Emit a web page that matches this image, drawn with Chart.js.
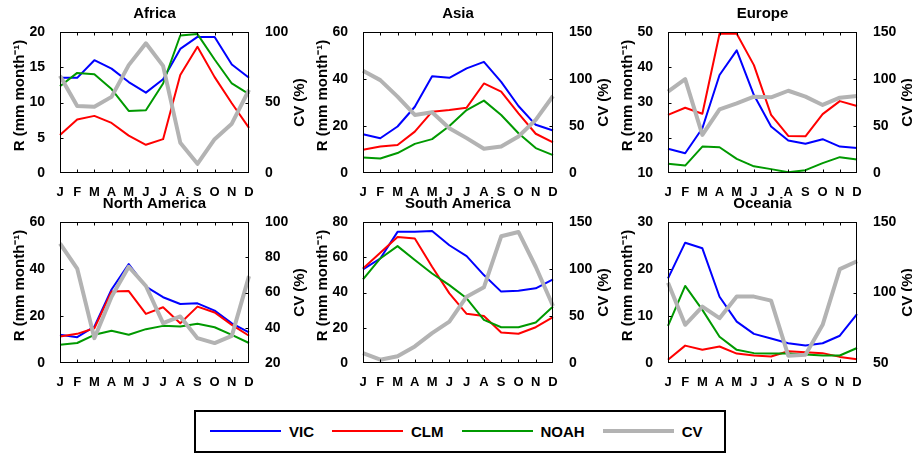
<!DOCTYPE html>
<html><head><meta charset="utf-8">
<script src="https://cdn.jsdelivr.net/npm/chart.js@4.4.1/dist/chart.umd.min.js"></script>
<style>
html,body{margin:0;padding:0;background:#fff;}
body{width:912px;height:455px;overflow:hidden;position:relative;font-family:"Liberation Sans",Arial,sans-serif;}
canvas{position:absolute;}
#legend{position:absolute;left:194px;top:410px;width:532px;height:43px;box-sizing:border-box;border:2px solid #000;display:flex;align-items:center;padding-left:14px;padding-bottom:1px;}
.item{display:flex;align-items:center;margin-right:18px;}
.sw{width:71px;margin-right:8px;}
.lab{font-weight:bold;font-size:15px;color:#000;}
</style>
</head><body>
<div id="legend"></div>
<script>
// ---- data ----
const months = ['J','F','M','A','M','J','J','A','S','O','N','D'];
const seriesNames = ['VIC','CLM','NOAH','CV'];
const seriesColors = ['#0000ff','#ff0000','#009900','#b3b3b3'];
const regions = ['Africa','Asia','Europe','North America','South America','Oceania'];

const africaVIC  = [13.5,13.5,16.0,14.8,12.9,11.4,13.3,17.6,19.3,19.3,15.4,13.5];
const africaCLM  = [5.4,7.6,8.1,7.1,5.3,4.0,4.8,13.9,17.9,13.6,9.9,6.4];
const africaNOAH = [12.3,14.2,14.0,11.9,8.8,8.9,12.7,19.5,19.7,16.1,12.7,11.2];
const africaCV   = [69,47.5,47,54,76.5,92,76,21.5,6.5,24,35,59];

const asiaVIC  = [16.5,14.8,19.8,28.2,41.2,40.5,44.5,47.3,38.8,28.5,20.5,18.1];
const asiaCLM  = [9.9,11.3,11.9,17.6,26.1,26.8,27.8,38.1,34.6,25.4,16.7,13.0];
const asiaNOAH = [6.6,6.2,8.5,12.4,14.4,20.0,26.8,30.8,24.7,16.9,10.6,7.6];
const asiaCV   = [108.7,98.8,81.2,61.8,64.6,47.6,37.1,25.8,28.2,38.8,56.5,81.9];

const europeVIC  = [16.9,15.6,22.7,37.8,44.8,32.1,23.2,19.2,18.3,19.6,17.5,17.1];
const europeCLM  = [26.5,28.5,26.8,49.5,49.5,40.6,26.5,20.5,20.4,26.7,30.4,29.0];
const europeNOAH = [12.6,12.1,17.5,17.3,14.0,11.9,11.1,10.2,10.8,12.8,14.5,13.8];
const europeCV   = [86.5,99.9,40.6,67.8,74.1,81.2,80.5,87.5,81.2,72.4,80.1,81.9];

const namericaVIC  = [12.0,11.0,15.5,31.3,42.1,32.5,28.0,25.1,25.4,22.3,16.9,13.0];
const namericaCLM  = [11.3,12.4,14.8,30.4,30.6,20.9,23.7,16.9,24.0,21.5,16.2,11.6];
const namericaNOAH = [7.8,8.5,12.0,13.7,12.0,14.4,15.8,15.5,16.7,15.2,12.0,8.5];
const namericaCV   = [87.8,73.6,34.1,57.6,74.6,63.7,42.6,46.4,34.1,31.3,35.4,69.3];

const samericaVIC  = [53.1,59.3,74.4,74.4,74.9,66.8,60.6,49.9,40.5,41.0,42.4,47.4];
const samericaCLM  = [53.6,62.5,71.5,70.6,54.6,39.5,27.9,26.7,17.3,16.6,20.3,26.0];
const samericaNOAH = [47.4,59.3,66.3,58.4,50.8,44.2,36.7,24.5,20.3,20.3,23.0,32.0];
const samericaCV   = [10.6,3.5,7.1,17.6,31.8,44.1,70.6,80.5,134.8,139.4,102.4,60.7];

const oceaniaVIC  = [18.0,25.6,24.4,14.1,8.8,6.2,5.2,4.2,3.7,4.2,5.8,10.4];
const oceaniaCLM  = [0.7,3.7,2.8,3.5,2.0,1.6,1.4,2.5,2.3,2.1,1.3,0.8];
const oceaniaNOAH = [7.9,16.4,11.3,5.6,2.8,2.1,2.0,2.0,1.8,1.6,1.6,3.2];
const oceaniaCV   = [106.9,77.1,90.0,81.8,97.1,97.1,94.2,55.2,55.9,77.1,116.6,122.2];

// axis ranges: [min, max, step]
const leftAxes  = [[0,20,5],[0,60,20],[10,50,10],[0,60,20],[0,80,20],[0,30,10]];
const rightAxes = [[0,100,50],[0,150,50],[0,150,50],[20,100,20],[0,150,50],[50,150,50]];

const leftTitle = 'R (mm month\u207B\u00B9)';
const rightTitle = 'CV (%)';

const panelData = [
  [africaVIC, africaCLM, africaNOAH, africaCV],
  [asiaVIC, asiaCLM, asiaNOAH, asiaCV],
  [europeVIC, europeCLM, europeNOAH, europeCV],
  [namericaVIC, namericaCLM, namericaNOAH, namericaCV],
  [samericaVIC, samericaCLM, samericaNOAH, samericaCV],
  [oceaniaVIC, oceaniaCLM, oceaniaNOAH, oceaniaCV]
];

// ---- layout ----
const FONT = '"Liberation Sans", Arial, sans-serif';
const plotLefts = [60, 363, 668];
const plotWidths = [189, 190, 189];
const plotTops = [32, 222];
const plotH = 141;
const MARGIN = 60, TOPM = 32, BOTM = 28;

function vText(ctx, text, x, y) {
  ctx.save();
  ctx.translate(x, y);
  ctx.rotate(-Math.PI / 2);
  ctx.fillText(text, 0, 0);
  ctx.restore();
}

const framePlugin = {
  id: 'frame',
  afterDraw(chart) {
    const {ctx, chartArea: a, scales} = chart;
    ctx.save();
    ctx.strokeStyle = '#000';
    ctx.lineWidth = 1;
    const L = Math.round(a.left) + 0.5, R = Math.round(a.right) - 0.5;
    const T = Math.round(a.top) + 0.5, B = Math.round(a.bottom) - 0.5;
    ctx.strokeRect(L, T, R - L, B - T);
    ctx.beginPath();
    const xs = scales.x;
    for (let i = 1; i < xs.ticks.length - 1; i++) {
      const x = Math.round(xs.getPixelForTick(i)) + 0.5;
      ctx.moveTo(x, B); ctx.lineTo(x, B - 3);
      ctx.moveTo(x, T); ctx.lineTo(x, T + 3);
    }
    const y1 = scales.y1;
    for (let i = 1; i < y1.ticks.length - 1; i++) {
      const y = Math.round(y1.getPixelForTick(i)) + 0.5;
      ctx.moveTo(R, y); ctx.lineTo(R - 3, y);
    }
    const y0 = scales.y;
    for (let i = 1; i < y0.ticks.length - 1; i++) {
      const y = Math.round(y0.getPixelForTick(i)) + 0.5;
      ctx.moveTo(L, y); ctx.lineTo(L + 3, y);
    }
    ctx.stroke();
    // axis titles (both read bottom-to-top)
    ctx.fillStyle = '#000';
    ctx.font = 'bold 15px ' + FONT;
    ctx.textAlign = 'center';
    ctx.textBaseline = 'middle';
    const cy = (a.top + a.bottom) / 2;
    vText(ctx, leftTitle, a.left - 40, cy - 7);
    vText(ctx, rightTitle, a.right + 51, cy);
    ctx.restore();
  }
};

const widths = [2, 2, 2, 4];
const orders = [3, 2, 1, 0];

regions.forEach((name, k) => {
  const col = k % 3, row = Math.floor(k / 3);
  const cv = document.createElement('canvas');
  const w = plotWidths[col] + 2 * MARGIN, h = TOPM + plotH + BOTM;
  cv.width = w; cv.height = h;
  cv.style.left = (plotLefts[col] - MARGIN) + 'px';
  cv.style.top = (plotTops[row] - TOPM) + 'px';
  cv.style.width = w + 'px'; cv.style.height = h + 'px';
  document.body.appendChild(cv);
  const la = leftAxes[k], ra = rightAxes[k];
  new Chart(cv, {
    type: 'line',
    data: {
      labels: months,
      datasets: seriesNames.map((s, i) => ({
        label: s,
        data: panelData[k][i],
        borderColor: seriesColors[i],
        backgroundColor: seriesColors[i],
        borderWidth: widths[i],
        pointRadius: 0,
        tension: 0,
        fill: false,
        order: orders[i],
        borderJoinStyle: 'round',
        yAxisID: i === 3 ? 'y1' : 'y'
      }))
    },
    options: {
      responsive: false,
      animation: false,
      devicePixelRatio: 1,
      layout: {padding: 0},
      events: [],
      plugins: {
        legend: {display: false},
        tooltip: {enabled: false},
        title: {display: true, text: name, color: '#000',
          font: {family: FONT, size: 15, weight: 'bold', lineHeight: 1.2},
          padding: {top: 5, bottom: 9}}
      },
      scales: {
        x: {
          type: 'category', offset: false,
          grid: {display: false}, border: {display: false},
          ticks: {color: '#000', font: {family: FONT, size: 13, weight: 'bold'}, padding: 4, autoSkip: false, maxRotation: 0},
          afterFit(s) { s.height = BOTM; }
        },
        y: {
          position: 'left', min: la[0], max: la[1],
          grid: {display: false}, border: {display: false},
          ticks: {stepSize: la[2], color: '#000', font: {family: FONT, size: 14, weight: 'bold'}, padding: 7},
          title: {display: false},
          afterFit(s) { s.width = MARGIN; }
        },
        y1: {
          position: 'right', min: ra[0], max: ra[1],
          grid: {display: false}, border: {display: false},
          ticks: {stepSize: ra[2], color: '#000', font: {family: FONT, size: 14, weight: 'bold'}, padding: 8},
          afterFit(s) { s.width = MARGIN; }
        }
      }
    },
    plugins: [framePlugin]
  });
});

// legend
const leg = document.getElementById('legend');
seriesNames.forEach((s, i) => {
  const it = document.createElement('div'); it.className = 'item';
  const sw = document.createElement('div'); sw.className = 'sw';
  sw.style.borderTop = widths[i] + 'px solid ' + seriesColors[i];
  const lb = document.createElement('span'); lb.className = 'lab'; lb.textContent = s;
  it.appendChild(sw); it.appendChild(lb); leg.appendChild(it);
});
</script>
</body></html>
